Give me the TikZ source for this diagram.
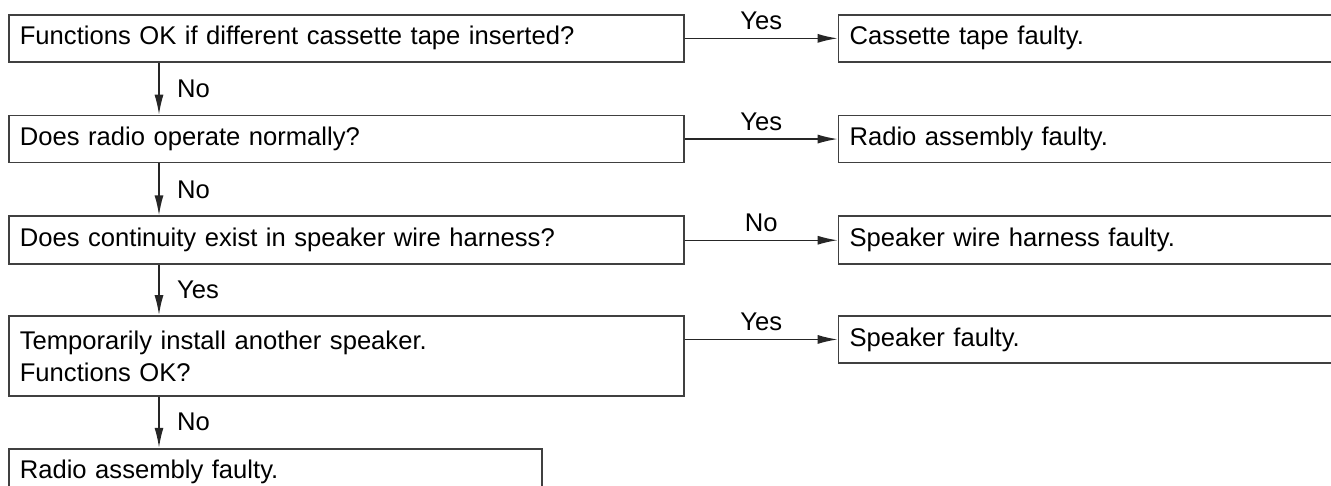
\documentclass[tikz,border=0pt]{standalone}
\usepackage{fontspec}
\setmainfont{Liberation Sans}
\usepackage{tikz}
\usetikzlibrary{arrows.meta,positioning}
\definecolor{lineGray}{rgb}{0.25,0.25,0.25}

\begin{document}
\begin{tikzpicture}[x=1pt,y=-1pt,font=\fontsize{25.6}{32}\selectfont,
   box/.style={draw=lineGray,line width=1.7pt,minimum height=47pt,text width=653pt,
               inner xsep=11pt,inner ysep=6pt,align=left,anchor=north west},
   answer/.style={box,text width=498pt},
   link/.style={-{Latex[length=20pt,width=9pt]},line width=1.5pt,draw=black!85,fill=black},
   lbl/.style={inner sep=8pt}]
  \useasboundingbox (0,0) rectangle (1331,485);
  \clip (0,0) rectangle (1331,485);
  \node[box] (q1) at (8,14) {Functions OK if different cassette tape inserted?};
  \node[box,below=52pt of q1] (q2) {Does radio operate normally?};
  \node[box,below=52pt of q2,minimum height=48pt] (q3) {Does continuity exist in speaker wire harness?};
  \node[box,below=50pt of q3,minimum height=80pt] (q4)
       {Temporarily install another speaker.\\Functions OK?};
  \node[box,text width=511pt,below=51pt of q4.south west,anchor=north west] (q5)
       {Radio assembly faulty.};
  \node[answer,right=153pt of q1] (a1) {Cassette tape faulty.};
  \node[answer,right=153pt of q2] (a2) {Radio assembly faulty.};
  \node[answer,right=153pt of q3,minimum height=48pt] (a3) {Speaker wire harness faulty.};
  \node[answer,right=153pt of q4.north east,anchor=north west] (a4) {Speaker faulty.};
  \draw[link] (q1) -- (a1) node[midway,above,lbl]{Yes};
  \draw[link] (q2) -- (a2) node[midway,above,lbl]{Yes};
  \draw[link] (q3) -- (a3) node[midway,above,lbl]{No};
  \draw[link] (q4.east |- a4) -- (a4) node[midway,above,lbl]{Yes};
  \draw[link] ([xshift=151pt]q1.south west) -- ([xshift=151pt]q2.north west)
       node[midway,right=14pt]{No};
  \draw[link] ([xshift=151pt]q2.south west) -- ([xshift=151pt]q3.north west)
       node[midway,right=14pt]{No};
  \draw[link] ([xshift=151pt]q3.south west) -- ([xshift=151pt]q4.north west)
       node[midway,right=14pt]{Yes};
  \draw[link] ([xshift=151pt]q4.south west) -- ([xshift=151pt]q5.north west)
       node[midway,right=14pt]{No};
\end{tikzpicture}
\end{document}
